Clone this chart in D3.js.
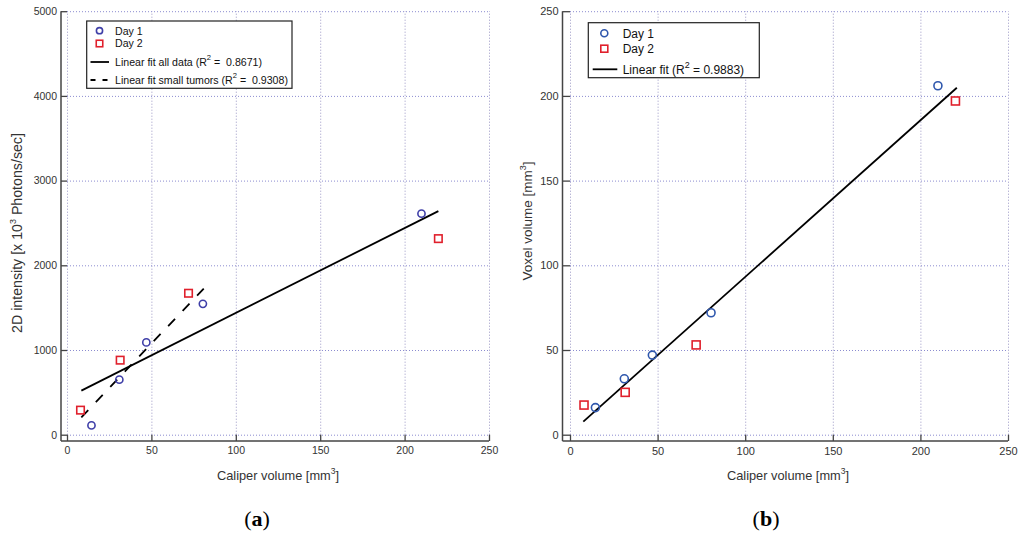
<!DOCTYPE html>
<html>
<head>
<meta charset="utf-8">
<script src="https://cdn.jsdelivr.net/npm/d3@7"></script>
<style>
  html, body { margin: 0; padding: 0; background: #fff; }
  svg { display: block; }
  text { font-family: "Liberation Sans", Arial, sans-serif; white-space: pre; }
</style>
</head>
<body>
<svg id="chart" width="1024" height="533"></svg>
<script>
// ---------- data ----------
const xTicks = [0, 50, 100, 150, 200, 250];
const intensityTicks = [0, 1000, 2000, 3000, 4000, 5000];
const voxelTicks = [0, 50, 100, 150, 200, 250];

const caliperDay1 = [14.5, 31, 47, 80.5, 210];
const caliperDay2 = [8, 31.5, 72, 220];

const intensityDay1 = [110, 650, 1090, 1545, 2610];
const intensityDay2 = [290, 880, 1670, 2315];

const voxelDay1 = [16, 33, 47, 72, 206];
const voxelDay2 = [17.5, 25, 53, 197];

const fitAllX = [8.5, 220];
const fitAllY = [520, 2640];
const fitSmallX = [8.5, 81];
const fitSmallY = [205, 1725];
const voxelFitX = [7.6, 220.8];
const voxelFitY = [7.7, 204.8];

// ---------- drawing ----------
const svg = d3.select("#chart");
const RED = "#e0202c";
const GRID = "#8c8cd0";
const AXIS = "#444";

function zip(xs, ys) { return xs.map((x, i) => [x, ys[i]]); }

function panel(o) {
  const g = svg.append("g");
  const x = d3.scaleLinear().domain([0, 250]).range(o.xRange);
  const y = d3.scaleLinear().domain(o.yDomain).range([434.7, 11.2]);
  const [x0, x1] = o.xRange;
  const yTop = 11.2, yBot = 434.7;

  // gridlines
  g.append("g").attr("transform", `translate(0,${yBot})`)
    .call(d3.axisBottom(x).tickValues(xTicks).tickSize(-(yBot - yTop)).tickFormat(""))
    .call(s => s.select(".domain").remove())
    .selectAll("line").attr("stroke", "#9a96c4").attr("stroke-dasharray", "1,2");
  g.append("g").attr("transform", `translate(${x0},0)`)
    .call(d3.axisLeft(y).tickValues(o.yTicks).tickSize(-(x1 - x0)).tickFormat(""))
    .call(s => s.select(".domain").remove())
    .selectAll("line").attr("stroke", GRID).attr("stroke-dasharray", "1,2");

  // axes (offset)
  const ax = o.axisX, ay = 441;
  const xa = g.append("g").attr("transform", `translate(0,${ay})`)
    .call(d3.axisBottom(x).tickValues(xTicks).tickSize(-(ay - yBot)).tickPadding(6).tickFormat(d3.format("d")));
  xa.select(".domain").remove();
  xa.selectAll("line").attr("stroke", AXIS).attr("stroke-width", 1.3);
  xa.selectAll("text").attr("fill", "#333").style("font-size", o.tickFont + "px")
    .style("font-family", "Liberation Sans, Arial, sans-serif");

  const ya = g.append("g").attr("transform", `translate(${ax},0)`)
    .call(d3.axisLeft(y).tickValues(o.yTicks).tickSize(-(x0 - ax)).tickPadding(4).tickFormat(d3.format("d")));
  ya.select(".domain").remove();
  ya.selectAll("line").attr("stroke", AXIS).attr("stroke-width", 1.3);
  ya.selectAll("text").attr("fill", "#333").style("font-size", o.tickFont + "px")
    .style("font-family", "Liberation Sans, Arial, sans-serif");

  g.append("line").attr("x1", ax).attr("x2", ax).attr("y1", yTop).attr("y2", ay)
    .attr("stroke", AXIS).attr("stroke-width", 1.5);
  g.append("line").attr("x1", ax).attr("x2", x1).attr("y1", ay).attr("y2", ay)
    .attr("stroke", AXIS).attr("stroke-width", 1.5);

  // fit lines
  const line = d3.line().x(d => x(d[0])).y(d => y(d[1]));
  o.fits.forEach(f => {
    g.append("path").attr("d", line(zip(f.xs, f.ys)))
      .attr("fill", "none").attr("stroke", "#000").attr("stroke-width", 1.8)
      .attr("stroke-dasharray", f.dash || null);
  });

  // markers
  g.selectAll(".c").data(zip(caliperDay1, o.day1)).join("circle")
    .attr("cx", d => x(d[0])).attr("cy", d => y(d[1])).attr("r", o.r)
    .attr("fill", "none").attr("stroke", o.blue).attr("stroke-width", 1.6);
  const s = o.sq;
  g.selectAll(".s").data(zip(caliperDay2, o.day2)).join("rect")
    .attr("x", d => x(d[0]) - s / 2).attr("y", d => y(d[1]) - s / 2)
    .attr("width", s).attr("height", s)
    .attr("fill", "none").attr("stroke", RED).attr("stroke-width", 1.6);

  // x label
  const xl = g.append("text").attr("x", o.xLabelX).attr("y", 480)
    .attr("text-anchor", "middle").attr("fill", "#333").style("font-size", "12.8px");
  xl.append("tspan").text("Caliper volume [mm");
  xl.append("tspan").attr("dy", -6).style("font-size", "8.5px").text("3");
  xl.append("tspan").attr("dy", 6).text("]");

  // y label
  const yl = g.append("text").attr("transform", `translate(${o.yLabel[0]},${o.yLabel[1]}) rotate(-90)`)
    .attr("text-anchor", "middle").attr("fill", "#333").style("font-size", o.yLabelFont + "px");
  o.yLabelParts.forEach(p => {
    if (p.sup) {
      yl.append("tspan").attr("dy", -6).style("font-size", "9px").text(p.t);
    } else {
      yl.append("tspan").attr("dy", p.after ? 6 : 0).text(p.t);
    }
  });

  // panel letter
  const pl = g.append("text").attr("x", o.letterX).attr("y", 526).attr("text-anchor", "middle")
    .style("font-family", "Liberation Serif, Times New Roman, serif").style("font-size", "22px").attr("fill", "#000");
  pl.append("tspan").text("(");
  pl.append("tspan").style("font-weight", "bold").text(o.letter);
  pl.append("tspan").text(")");

  // legend
  const L = o.legend;
  const lg = g.append("g");
  lg.append("rect").attr("x", L.box[0]).attr("y", L.box[1]).attr("width", L.box[2] - L.box[0])
    .attr("height", L.box[3] - L.box[1]).attr("fill", "#fff").attr("stroke", "#222").attr("stroke-width", 1.2);
  L.items.forEach(it => {
    if (it.type === "circle") {
      lg.append("circle").attr("cx", L.markerX).attr("cy", it.y).attr("r", o.r - 0.5)
        .attr("fill", "none").attr("stroke", o.blue).attr("stroke-width", 1.6);
    } else if (it.type === "square") {
      lg.append("rect").attr("x", L.markerX - (s - 1) / 2).attr("y", it.y - (s - 1) / 2)
        .attr("width", s - 1).attr("height", s - 1)
        .attr("fill", "none").attr("stroke", RED).attr("stroke-width", 1.6);
    } else {
      lg.append("line").attr("x1", L.lineX[0]).attr("x2", L.lineX[1]).attr("y1", it.y).attr("y2", it.y)
        .attr("stroke", "#000").attr("stroke-width", 1.8).attr("stroke-dasharray", it.dash || null);
    }
    const t = lg.append("text").attr("x", L.textX).attr("y", it.y + L.font * 0.36)
      .attr("fill", "#111").style("font-size", L.font + "px");
    it.parts.forEach(p => {
      if (p.sup) t.append("tspan").attr("dy", -6).style("font-size", (L.font - 3) + "px").text(p.t);
      else t.append("tspan").attr("dy", p.after ? 6 : 0).text(p.t);
    });
  });
}

panel({
  xRange: [67, 489], axisX: 61, yDomain: [0, 5000], yTicks: intensityTicks,
  day1: intensityDay1, day2: intensityDay2, blue: "#3f3fa8", r: 3.6, sq: 7.5, tickFont: 10.5,
  fits: [{ xs: fitAllX, ys: fitAllY }, { xs: fitSmallX, ys: fitSmallY, dash: "10,11" }],
  xLabelX: 278, yLabel: [22, 233], yLabelFont: 14.2,
  yLabelParts: [{ t: "2D intensity [x 10" }, { t: "3", sup: true }, { t: " Photons/sec]", after: true }],
  letter: "a", letterX: 257,
  legend: {
    box: [86.7, 21, 292, 88.3], markerX: 99.5, lineX: [90.5, 109], textX: 115, font: 10.6,
    items: [
      { type: "circle", y: 30.7, parts: [{ t: "Day 1" }] },
      { type: "square", y: 43.5, parts: [{ t: "Day 2" }] },
      { type: "line", y: 62, parts: [{ t: "Linear fit all data (R" }, { t: "2", sup: true }, { t: " =  0.8671)", after: true }] },
      { type: "line", y: 80, dash: "5,7", parts: [{ t: "Linear fit small tumors (R" }, { t: "2", sup: true }, { t: " =  0.9308)", after: true }] }
    ]
  }
});

panel({
  xRange: [570, 1008], axisX: 562.5, yDomain: [0, 250], yTicks: voxelTicks,
  day1: voxelDay1, day2: voxelDay2, blue: "#2f57ad", r: 4, sq: 8, tickFont: 11,
  fits: [{ xs: voxelFitX, ys: voxelFitY }],
  xLabelX: 788, yLabel: [532, 221], yLabelFont: 13.5,
  yLabelParts: [{ t: "Voxel volume [mm" }, { t: "3", sup: true }, { t: "]", after: true }],
  letter: "b", letterX: 766,
  legend: {
    box: [588.3, 22.7, 759.3, 77.7], markerX: 604.3, lineX: [592.7, 617.3], textX: 622.7, font: 12,
    items: [
      { type: "circle", y: 33.3, parts: [{ t: "Day 1" }] },
      { type: "square", y: 48.7, parts: [{ t: "Day 2" }] },
      { type: "line", y: 69.3, parts: [{ t: "Linear fit (R" }, { t: "2", sup: true }, { t: " = 0.9883)", after: true }] }
    ]
  }
});
</script>
</body>
</html>
